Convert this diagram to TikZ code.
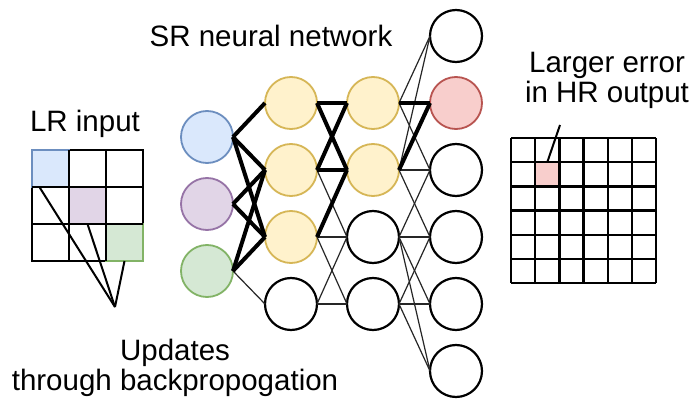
\documentclass[tikz,border=0pt]{standalone}
\usepackage{fontspec}
\setmainfont{Liberation Sans}
\usetikzlibrary{calc}
\definecolor{bfill}{HTML}{DAE8FC}\definecolor{bdraw}{HTML}{6C8EBF}
\definecolor{pfill}{HTML}{E1D5E7}\definecolor{pdraw}{HTML}{9673A6}
\definecolor{gfill}{HTML}{D5E8D4}\definecolor{gdraw}{HTML}{82B366}
\definecolor{yfill}{HTML}{FFF2CC}\definecolor{ydraw}{HTML}{D6B656}
\definecolor{rfill}{HTML}{F8CECC}\definecolor{rdraw}{HTML}{B85450}
\begin{document}
\begin{tikzpicture}[x=1pt,y=-1pt,
  neuron/.style={circle,minimum size=52pt,inner sep=0pt,outer sep=0pt,line width=2.2pt,draw=black,fill=white},
  bluen/.style={neuron,fill=bfill,draw=bdraw,line width=1.8pt},
  purplen/.style={neuron,fill=pfill,draw=pdraw,line width=1.8pt},
  greenn/.style={neuron,fill=gfill,draw=gdraw,line width=1.8pt},
  yellown/.style={neuron,fill=yfill,draw=ydraw,line width=1.8pt},
  redn/.style={neuron,fill=rfill,draw=rdraw,line width=1.8pt},
  thinw/.style={line width=1.2pt,draw=black!85},
  thickw/.style={line width=4pt,draw=black},
  lrcell/.style={rectangle,minimum size=37pt,inner sep=0pt,outer sep=0pt,line width=2.5pt,draw=black,fill=white},
  lab/.style={inner sep=0pt,font=\fontsize{29.5pt}{30pt}\selectfont,text=black},
  leader/.style={line width=2pt,draw=black}]
\useasboundingbox[fill=white] (0,0) rectangle (694,401);

% ---- texts
\node[lab,anchor=base] (srlab) at (271,47) {SR neural network};
\node[lab,anchor=base] (lrlab) at (85,132) {LR input};
\node[lab,align=center,anchor=north] (errlab) at (607,52) {Larger error\\in HR output};
\node[lab,align=center,anchor=north] (updlab) at (175,339) {Updates\\through backpropogation};

% ---- LR input grid
\foreach \r in {1,2,3}{
  \foreach \c in {1,2,3}{
    \node[lrcell] (l\r\c) at (32+37*\c-18.5,150+37*\r-18.5) {};
  }
}
\node[lrcell,fill=bfill,draw=bdraw] (lb) at (l11) {};
\node[lrcell,fill=pfill,draw=pdraw] (lp) at (l22) {};
\node[lrcell,fill=gfill,draw=gdraw] (lg) at (l33) {};
\draw[line width=2.5pt] (l11.north east) -- (l31.south east);
\draw[line width=2.5pt] (l12.north east) -- (l32.south east);
\draw[line width=2.5pt] (l11.south west) -- (l13.south east);
\draw[line width=2.5pt] (l21.south west) -- (l23.south east);

\coordinate (updpt) at (115,307);
\draw[leader] ($(lb.south west)!0.2!(lb.south east)$) -- (updpt);
\draw[leader] (lp.south) -- (updpt);
\draw[leader] (lg.south) -- (updpt);

% ---- HR output grid
\node[rectangle,minimum size=24.2pt,inner sep=0pt,outer sep=0pt,fill=rfill] (hr) at (547.3,174.3) {};
\foreach \i in {0,...,6}{
  \draw[line width=2.5pt] (511+24.2*\i,138) -- (511+24.2*\i,283.2);
  \draw[line width=2.5pt] (511,138+24.2*\i) -- (656.2,138+24.2*\i);
}
\coordinate (errpt) at (560,125);
\draw[leader] (errpt) -- (hr.north);

% ---- neurons
\node[bluen] (a1) at (207,137) {};
\node[purplen] (a2) at (207,204) {};
\node[greenn] (a3) at (207,271) {};

\node[yellown] (b1) at (291,103) {};
\node[yellown] (b2) at (291,170) {};
\node[yellown] (b3) at (291,237) {};
\node[neuron] (b4) at (291,304) {};

\node[yellown] (c1) at (373,103) {};
\node[yellown] (c2) at (373,170) {};
\node[neuron] (c3) at (373,237) {};
\node[neuron] (c4) at (373,304) {};

\node[neuron] (d1) at (456,36) {};
\node[redn] (d2) at (456,103) {};
\node[neuron] (d3) at (456,170) {};
\node[neuron] (d4) at (456,237) {};
\node[neuron] (d5) at (456,304) {};
\node[neuron] (d6) at (456,371) {};

% ---- thin connections
\foreach \s/\t in {a3/b4, b2/c3, b3/c3, b3/c4, b4/c3, b4/c4,
                   c1/d1, c1/d3, c2/d1, c2/d3, c2/d4,
                   c3/d3, c3/d4, c3/d5, c3/d6, c4/d4, c4/d5, c4/d6}
  \draw[thinw] (\s.east) -- (\t.west);
% ---- thick connections
\foreach \s/\t in {a1/b1, a1/b2, a1/b3, a2/b2, a2/b3, a3/b2, a3/b3,
                   b1/c1, b1/c2, b2/c1, b2/c2, b3/c2, c1/d2, c2/d2}
  \draw[thickw] (\s.east) -- (\t.west);
\end{tikzpicture}
\end{document}
